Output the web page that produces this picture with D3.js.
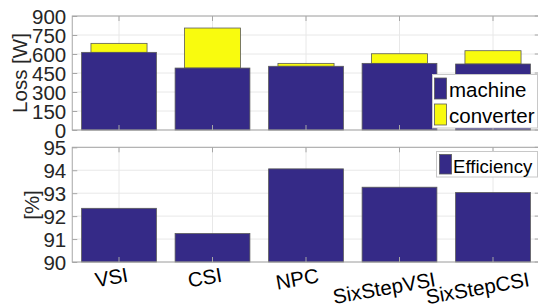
<!DOCTYPE html>
<html>
  <head>
    <meta charset="UTF-8">
    <title>Loss and efficiency</title>
    <style>
      body { margin: 0; background: #fff; }
      svg { display: block; font-family: "Liberation Sans", Arial, sans-serif; }
    </style>
  </head>
  <body>

    <svg class="chart"></svg>

    <script src="https://d3js.org/d3.v7.min.js"></script>
    <script>

/* DATA */
var categories = ["VSI", "CSI", "NPC", "SixStepVSI", "SixStepCSI"];
var machineLoss = [613, 489, 503, 526, 521];
var converterLoss = [71, 316, 23, 76, 105];
var efficiency = [92.34, 91.24, 94.06, 93.26, 93.03];
var lossTicks = [0, 150, 300, 450, 600, 750, 900];
var effTicks = [90, 91, 92, 93, 94, 95];

var width = 538, height = 306;
var font = "'Liberation Sans', Arial, sans-serif";
var blue = "#352a87", yellow = "#f9fb0e";
var edge = "#5a5a5a", boxColor = "#a6a6a6", gridColor = "#e8e8e8";

var svg = d3.select("svg")
  .attr("width", width)
  .attr("height", height);

// shared x: matlab-like limits [0.5, 5.5]
var x = d3.scaleBand()
  .domain(categories)
  .range([72.25, 539.75])
  .paddingInner(0.2)
  .paddingOuter(0.1);
var step = x.step();

function center(c) { return x(c) + x.bandwidth() / 2; }

// grid for one panel
function panel(y, ticks, top, bottom) {
  var g = svg.append("g");
  var left = 72.25, right = 539.75;

  g.selectAll("line.hgrid").data(ticks).enter().append("line")
    .attr("x1", left).attr("x2", right)
    .attr("y1", function(d) { return y(d); })
    .attr("y2", function(d) { return y(d); })
    .attr("stroke", gridColor);
  g.selectAll("line.vgrid").data(categories).enter().append("line")
    .attr("x1", center).attr("x2", center)
    .attr("y1", top).attr("y2", bottom)
    .attr("stroke", gridColor);

  return g;
}

// box, ticks and y axis labels
function frame(y, ticks, top, bottom) {
  var left = 72.25, right = 539.75;
  var g = svg.append("g");

  var axis = g.append("g")
    .attr("transform", "translate(" + left + ",0)")
    .call(d3.axisLeft(y).tickValues(ticks).tickFormat(d3.format("d")).tickSize(-5).tickPadding(6));
  axis.attr("font-family", font).attr("font-size", 20.5);
  axis.select(".domain").remove();
  axis.selectAll(".tick line").attr("stroke", boxColor);
  axis.selectAll(".tick text").attr("fill", "#262626").attr("dy", "0.36em");

  g.selectAll("line.rt").data(ticks).enter().append("line")
    .attr("x1", right - 5).attr("x2", right)
    .attr("y1", function(d) { return y(d); })
    .attr("y2", function(d) { return y(d); })
    .attr("stroke", boxColor);

  g.selectAll("line.bt").data(categories).enter().append("line")
    .attr("x1", center).attr("x2", center)
    .attr("y1", bottom).attr("y2", bottom - 5)
    .attr("stroke", boxColor);
  g.selectAll("line.tt").data(categories).enter().append("line")
    .attr("x1", center).attr("x2", center)
    .attr("y1", top).attr("y2", top + 5)
    .attr("stroke", boxColor);

  g.append("rect")
    .attr("x", left).attr("y", top)
    .attr("width", right - left).attr("height", bottom - top)
    .attr("fill", "none")
    .attr("stroke", boxColor);
}

/* TOP PANEL: LOSS */
var yLoss = d3.scaleLinear().domain([0, 900]).range([130, 16]);
var gTop = panel(yLoss, lossTicks, 16, 130);

var lossRows = categories.map(function(c, i) {
  return { cat: c, machine: machineLoss[i], converter: converterLoss[i] };
});

gTop.selectAll("rect.conv").data(lossRows).enter().append("rect")
  .attr("x", function(d) { return center(d.cat) - 0.3 * step; })
  .attr("width", 0.6 * step)
  .attr("y", function(d) { return yLoss(d.machine + d.converter); })
  .attr("height", function(d) { return yLoss(d.machine) - yLoss(d.machine + d.converter); })
  .attr("fill", yellow)
  .attr("stroke", edge).attr("stroke-width", 0.8);

gTop.selectAll("rect.mach").data(lossRows).enter().append("rect")
  .attr("x", function(d) { return x(d.cat); })
  .attr("width", x.bandwidth())
  .attr("y", function(d) { return yLoss(d.machine); })
  .attr("height", function(d) { return yLoss(0) - yLoss(d.machine); })
  .attr("fill", blue)
  .attr("stroke", edge).attr("stroke-width", 0.8);

frame(yLoss, lossTicks, 16, 130);

svg.append("text")
  .attr("transform", "translate(27,73) rotate(-90)")
  .attr("text-anchor", "middle")
  .attr("font-family", font)
  .attr("font-size", 20.5)
  .attr("fill", "#262626")
  .text("Loss [W]");

// legend top
var legTop = svg.append("g").attr("font-family", font);
legTop.append("rect")
  .attr("x", 432.5).attr("y", 74.5)
  .attr("width", 105).attr("height", 53.5)
  .attr("fill", "#fff").attr("stroke", "#c8c8c8");
[["machine", blue, 78], ["converter", yellow, 104]].forEach(function(it) {
  legTop.append("rect")
    .attr("x", 434.5).attr("y", it[2])
    .attr("width", 12).attr("height", 21)
    .attr("fill", it[1]).attr("stroke", edge).attr("stroke-width", 0.8);
  legTop.append("text")
    .attr("x", 449).attr("y", it[2] + 19)
    .attr("font-size", 20.5)
    .attr("fill", "#000")
    .text(it[0]);
});

/* BOTTOM PANEL: EFFICIENCY */
var yEff = d3.scaleLinear().domain([90, 95]).range([262, 147.3]);
var gBot = panel(yEff, effTicks, 147.3, 262);

gBot.selectAll("rect.eff").data(categories).enter().append("rect")
  .attr("x", function(d) { return x(d); })
  .attr("width", x.bandwidth())
  .attr("y", function(d, i) { return yEff(efficiency[i]); })
  .attr("height", function(d, i) { return yEff(90) - yEff(efficiency[i]); })
  .attr("fill", blue)
  .attr("stroke", edge).attr("stroke-width", 0.8);

frame(yEff, effTicks, 147.3, 262);

svg.append("text")
  .attr("transform", "translate(39,205) rotate(-90)")
  .attr("text-anchor", "middle")
  .attr("font-family", font)
  .attr("font-size", 20.5)
  .attr("fill", "#262626")
  .text("[%]");

// legend bottom
var legBot = svg.append("g").attr("font-family", font);
legBot.append("rect")
  .attr("x", 436.5).attr("y", 151.5)
  .attr("width", 101).attr("height", 25.5)
  .attr("fill", "#fff").attr("stroke", "#c8c8c8");
legBot.append("rect")
  .attr("x", 439.5).attr("y", 154.5)
  .attr("width", 12).attr("height", 19.5)
  .attr("fill", blue).attr("stroke", edge).attr("stroke-width", 0.8);
legBot.append("text")
  .attr("x", 453).attr("y", 173)
  .attr("font-size", 18.6)
  .attr("fill", "#000")
  .text("Efficiency");

// rotated category labels
svg.selectAll("text.xlab").data(categories).enter().append("text")
  .attr("class", "xlab")
  .attr("font-family", font)
  .attr("font-size", 20.5)
  .attr("fill", "#000")
  .attr("text-anchor", "middle")
  .attr("dominant-baseline", "central")
  .text(function(d) { return d; })
  .attr("transform", function(d) {
    var w = this.getComputedTextLength();
    var cx = center(d) - 4 - 0.11 * w;
    var cy = 272 + 0.15 * w;
    return "translate(" + cx + "," + cy + ") rotate(-10)";
  });

</script>
  </body>
</html>
